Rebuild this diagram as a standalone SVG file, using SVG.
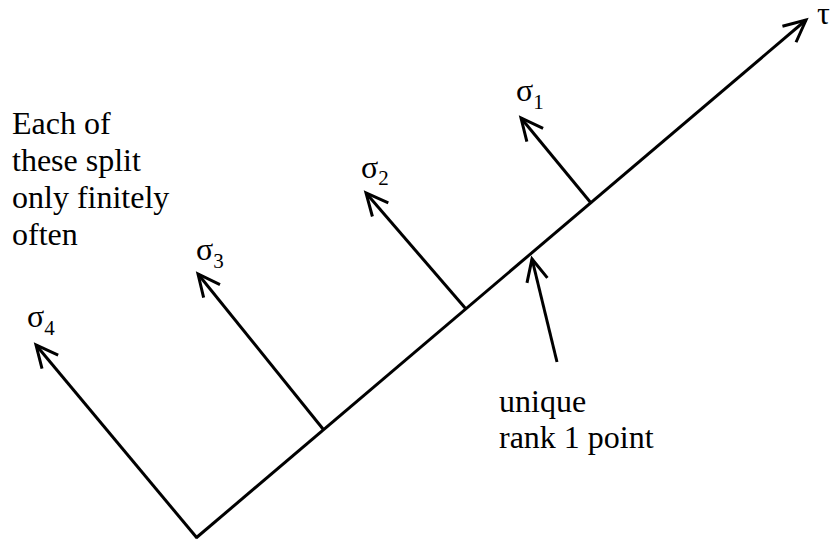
<svg xmlns="http://www.w3.org/2000/svg" width="838" height="544" viewBox="0 0 838 544">
<style>
.ln{stroke:#000;stroke-width:3;fill:none;marker-end:url(#ah)}
text{font-family:"Liberation Serif","Times New Roman",serif;fill:#000}
.t{font-size:32px}
.s{font-size:32px}
.sub{font-size:21px}
</style>
<defs>
<marker id="ah" markerUnits="userSpaceOnUse" markerWidth="40" markerHeight="40" viewBox="-30 -20 40 40" refX="0" refY="0" orient="auto">
<path d="M-22,-10.5 L0,0 L-22,10.5" stroke="#000" stroke-width="3" fill="none" stroke-linecap="butt" stroke-linejoin="miter"/>
</marker>
</defs>
<rect width="838" height="544" fill="#fff"/>
<g id="connectors">
<line class="ln" x1="196" y1="538" x2="806" y2="20"/>
<line class="ln" x1="197" y1="538" x2="36" y2="345"/>
<line class="ln" x1="323" y1="429" x2="198" y2="274"/>
<line class="ln" x1="466" y1="309" x2="366" y2="193"/>
<line class="ln" x1="591" y1="203" x2="521" y2="118"/>
<line class="ln" x1="557" y1="362" x2="532" y2="259"/>
</g>
<g id="tau"><text class="s" x="817" y="24">τ</text></g>
<g id="sigma1"><text class="s" x="516" y="101">σ<tspan class="sub" dy="8">1</tspan></text></g>
<g id="sigma2"><text class="s" x="361" y="178">σ<tspan class="sub" dy="7">2</tspan></text></g>
<g id="sigma3"><text class="s" x="196" y="260">σ<tspan class="sub" dy="8">3</tspan></text></g>
<g id="sigma4"><text class="s" x="27" y="327">σ<tspan class="sub" dy="8">4</tspan></text></g>
<g id="note">
<text class="t" x="12" y="134">Each of</text>
<text class="t" x="12" y="171">these split</text>
<text class="t" x="12" y="208">only finitely</text>
<text class="t" x="12" y="245">often</text>
</g>
<g id="rank1">
<text class="t" x="499" y="412">unique</text>
<text class="t" x="499" y="448">rank 1 point</text>
</g>
</svg>
